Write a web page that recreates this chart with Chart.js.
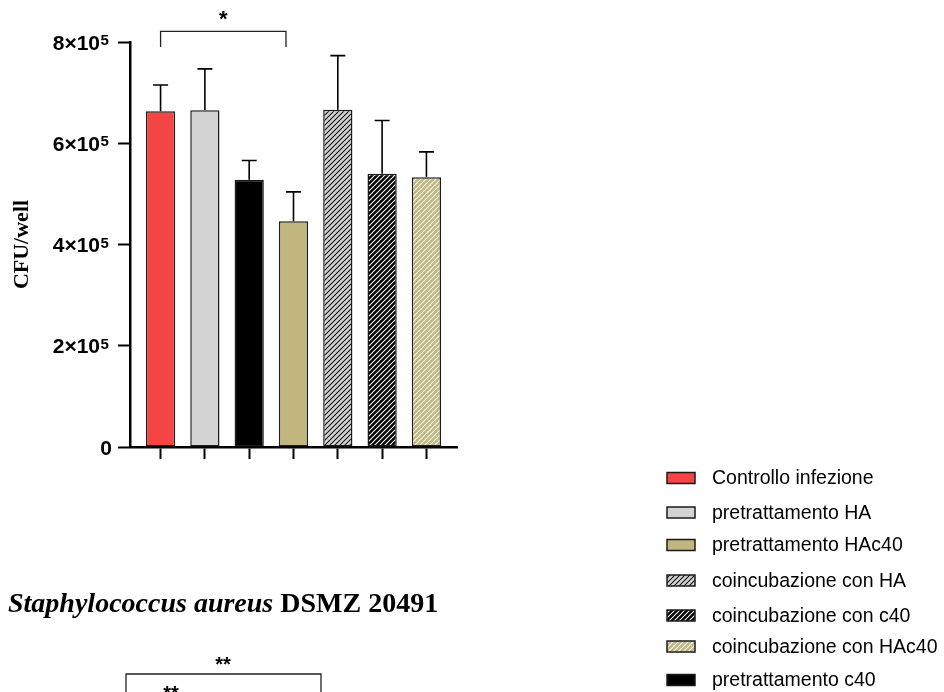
<!DOCTYPE html>
<html>
<head>
<meta charset="utf-8">
<script src="https://cdn.jsdelivr.net/npm/chart.js@4.4.0/dist/chart.umd.min.js"></script>
<style>
	body { margin: 0; background: #fff; }
	#wrap { position: relative; width: 944px; height: 692px; }
	#strain {
		position: absolute; left: 8px; top: 587px;
		font: bold 28px "Liberation Serif", "Times New Roman", serif;
		color: #000; white-space: nowrap;
	}
</style>
</head>
<body>
<div id="wrap">
	<canvas id="cnv_cfu_chart" width="944" height="692"></canvas>
	<div id="strain"><i>Staphylococcus aureus</i> DSMZ 20491</div>
</div>
<script>
// bar order on the x axis
const categories = [
	'Controllo infezione',
	'pretrattamento HA',
	'pretrattamento c40',
	'pretrattamento HAc40',
	'coincubazione con HA',
	'coincubazione con c40',
	'coincubazione con HAc40'
];
// CFU/well, mean and upper error (SD)
const means = [663000, 665000, 528000, 446000, 666000, 540000, 533000];
const errors = [52000, 82000, 38000, 58000, 107000, 105000, 50000];
// y ticks
const yTicks = [0, 200000, 400000, 600000, 800000];
// legend order (index into categories)
const legendOrder = [0, 1, 3, 4, 5, 6, 2];
// significance bracket over the bars: from / to on x, height on y
const sigBrackets = [{ from: 0, to: 2.83, at: 821000, drop: 790000, mark: '*' }];

const ctx = document.getElementById('cnv_cfu_chart').getContext('2d');

//Hatched fills ("/" stripes)
const hatch = (bg, fg) => {
	const n = 5;
	const tile = document.createElement('canvas');
	tile.width = n; tile.height = n;
	const g = tile.getContext('2d');
	g.fillStyle = bg;
	g.fillRect(0, 0, n, n);
	g.strokeStyle = fg;
	g.lineWidth = 1.05;
	g.beginPath();
	g.moveTo(-1, n + 1); g.lineTo(n + 1, -1);
	g.moveTo(-1, 1); g.lineTo(1, -1);
	g.moveTo(n - 1, n + 1); g.lineTo(n + 1, n - 1);
	g.stroke();
	return ctx.createPattern(tile, 'repeat');
}

const RED = '#F54444', GREY = '#D3D3D3', TAN = '#C1B77E';
const fills = [RED, GREY, '#000000', TAN, hatch(GREY, '#111'), hatch('#000', '#fff'), hatch(TAN, '#fff')];

const legendRowY = [478, 512.5, 545, 580.5, 615.5, 646.5, 680];
const SANS = '"Liberation Sans", Arial, sans-serif';

const extras = {
	id: 'extras',
	afterDraw(chart) {
		const { ctx, scales: { x, y } } = chart;
		ctx.save();

		// y tick labels "n×10^5", from the scale's own ticks
		ctx.fillStyle = '#000';
		ctx.textBaseline = 'alphabetic';
		y.ticks.forEach(t => {
			const py = y.getPixelForValue(t.value);
			const base = py + 7.5;
			ctx.textAlign = 'right';
			ctx.font = `bold 21px ${SANS}`;
			if (t.value === 0) {
				ctx.fillText('0', 112, base);
				return;
			}
			ctx.fillText(`${t.value / 1e5}×10`, 100, base);
			ctx.textAlign = 'left';
			ctx.font = `bold 15px ${SANS}`;
			ctx.fillText('5', 100.5, base - 4.5);
		});

		// error bars (upper side only)
		ctx.strokeStyle = '#000';
		ctx.lineWidth = 1.6;
		means.forEach((m, i) => {
			const px = x.getPixelForValue(i);
			const top = y.getPixelForValue(m + errors[i]);
			ctx.beginPath();
			ctx.moveTo(px, y.getPixelForValue(m));
			ctx.lineTo(px, top);
			ctx.moveTo(px - 7.5, top);
			ctx.lineTo(px + 7.5, top);
			ctx.stroke();
		});

		// significance
		ctx.lineWidth = 1.3;
		ctx.strokeStyle = '#222';
		ctx.fillStyle = '#000';
		ctx.font = `bold 22px ${SANS}`;
		ctx.textAlign = 'center';
		sigBrackets.forEach(b => {
			const x1 = x.getPixelForValue(b.from), x2 = x.getPixelForValue(b.to);
			const yy = y.getPixelForValue(b.at), yd = y.getPixelForValue(b.drop);
			ctx.beginPath();
			ctx.moveTo(x1, yd); ctx.lineTo(x1, yy); ctx.lineTo(x2, yy); ctx.lineTo(x2, yd);
			ctx.stroke();
			ctx.fillText(b.mark, (x1 + x2) / 2, yy - 5);
		});

		// top of the next panel, cut by the page edge
		ctx.beginPath();
		ctx.moveTo(126, 700); ctx.lineTo(126, 674); ctx.lineTo(321, 674); ctx.lineTo(321, 700);
		ctx.stroke();
		ctx.font = `bold 20px ${SANS}`;
		ctx.fillText('**', 223, 671);
		ctx.fillText('**', 171, 700);

		// legend
		ctx.textAlign = 'left';
		ctx.textBaseline = 'middle';
		ctx.font = `19.5px ${SANS}`;
		legendOrder.forEach((idx, row) => {
			const cy = legendRowY[row];
			ctx.fillStyle = fills[idx];
			ctx.fillRect(667, cy - 5.5, 28, 11);
			ctx.lineWidth = 1.5;
			ctx.strokeStyle = '#1b1b1b';
			ctx.strokeRect(667, cy - 5.5, 28, 11);
			ctx.fillStyle = '#000';
			ctx.fillText(categories[idx], 712, cy + 1);
		});
		ctx.restore();
	}
}

const cfuChart = new Chart(ctx, {
	type: 'bar',
	data: {
		labels: categories,
		datasets: [{
			label: 'CFU/well',
			data: means.map((m, i) => ({ x: i, y: m })),
			backgroundColor: fills,
			borderColor: '#1b1b1b',
			borderWidth: 1.5,
			borderSkipped: false,
			categoryPercentage: 1,
			barPercentage: 0.66
		}]
	},
	options: {
		responsive: false,
		animation: false,
		layout: { padding: { left: 0, right: 487, top: 42, bottom: 245 } },
		plugins: {
			legend: { display: false },
			tooltip: { enabled: false }
		},
		scales: {
			x: {
				type: 'linear',
				bounds: 'data',
				offset: false,
				min: -0.69,
				max: 6.69,
				z: 1,
				// one tick under each bar
				afterBuildTicks: scale => { scale.ticks = categories.map((c, i) => ({ value: i })); },
				ticks: { display: false },
				grid: { offset: false, drawOnChartArea: false, tickLength: 12, tickWidth: 2, tickColor: '#000' },
				border: { color: '#000', width: 2.5 },
				afterFit: scale => { scale.height = 0; }
			},
			y: {
				min: 0,
				max: 800000,
				z: 1,
				afterBuildTicks: scale => { scale.ticks = yTicks.map(v => ({ value: v })); },
				ticks: { display: false },
				grid: { drawOnChartArea: false, tickLength: 12, tickWidth: 2, tickColor: '#000' },
				border: { color: '#000', width: 2.5 },
				title: {
					display: true,
					text: 'CFU/well',
					color: '#000',
					font: { family: '"Liberation Serif", "Times New Roman", serif', size: 22, weight: 'bold' },
					padding: { top: 9, bottom: 0 }
				},
				afterFit: scale => { scale.width = 130; }
			}
		}
	},
	plugins: [extras]
});
</script>
</body>
</html>
